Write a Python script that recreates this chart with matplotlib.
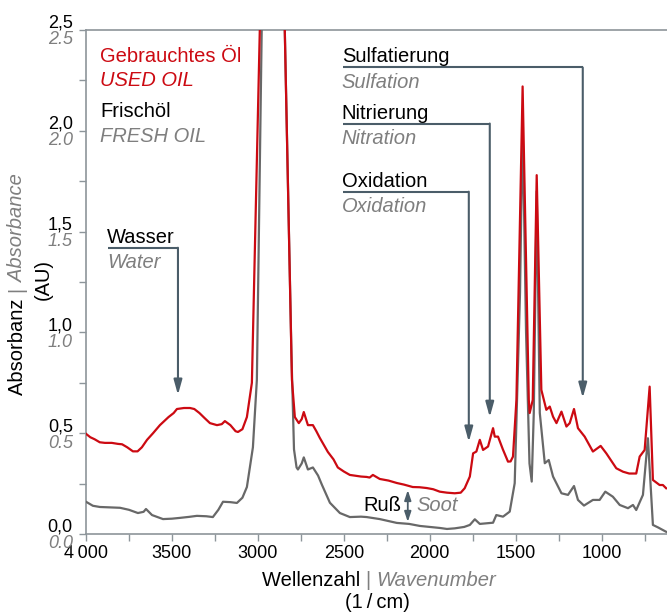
import matplotlib
matplotlib.use('Agg')
import matplotlib.pyplot as plt
from matplotlib.ticker import MultipleLocator

plt.rcParams['font.family'] = ['Liberation Sans', 'DejaVu Sans']

# used oil (red)
used_wn = [4000, 3975, 3950, 3920, 3890, 3850, 3814, 3790, 3760, 3727, 3700, 3675, 3645,
           3610, 3570, 3520, 3490, 3471, 3430, 3395, 3370, 3340, 3310, 3279, 3238, 3210,
           3192, 3160, 3130, 3116, 3090, 3064, 3035, 2960, 2870, 2802, 2785, 2762,
           2745, 2733, 2709, 2680, 2660, 2640, 2593, 2560, 2535, 2500, 2465, 2400, 2367,
           2350, 2331, 2291, 2240, 2192, 2150, 2099, 2060, 2018, 1980, 1942, 1900, 1855,
           1820, 1797, 1767, 1748, 1729, 1709, 1690, 1661, 1632, 1622, 1603, 1575, 1545,
           1530, 1516, 1496, 1460, 1424, 1419, 1401, 1378, 1351, 1322, 1302, 1283, 1263,
           1234, 1205, 1186, 1161, 1138, 1099, 1051, 1006, 973, 915, 876, 840, 799, 779,
           750, 721, 702, 663, 644, 625]
used_abs = [0.497, 0.48, 0.47, 0.455, 0.452, 0.452, 0.447, 0.445, 0.43, 0.41, 0.41, 0.43, 0.467,
            0.50, 0.54, 0.58, 0.60, 0.62, 0.625, 0.625, 0.62, 0.60, 0.575, 0.55, 0.54, 0.545,
            0.56, 0.54, 0.51, 0.506, 0.52, 0.58, 0.75, 3.6, 3.6, 0.765, 0.58, 0.55,
            0.57, 0.605, 0.54, 0.54, 0.51, 0.477, 0.407, 0.37, 0.33, 0.31, 0.293, 0.285, 0.283,
            0.28, 0.293, 0.273, 0.265, 0.253, 0.245, 0.233, 0.232, 0.228, 0.222, 0.21, 0.205, 0.202,
            0.205, 0.227, 0.285, 0.40, 0.409, 0.467, 0.417, 0.434, 0.525, 0.483, 0.483, 0.42, 0.359,
            0.36, 0.384, 0.665, 2.22, 0.665, 0.60, 0.665, 1.78, 0.715, 0.616, 0.632, 0.582, 0.55,
            0.607, 0.533, 0.55, 0.62, 0.525, 0.483, 0.409, 0.437, 0.40, 0.326, 0.309, 0.30, 0.30, 0.384,
            0.417, 0.731, 0.268, 0.243, 0.243, 0.227]

# fresh oil (gray)
fresh_wn = [4000, 3960, 3919, 3860, 3802, 3750, 3698, 3665, 3651, 3616, 3552, 3500, 3453,
            3400, 3355, 3300, 3262, 3230, 3203, 3160, 3122, 3090, 3064, 3029, 3006, 2960,
            2870, 2805, 2790, 2775, 2767, 2745, 2733, 2709, 2680, 2650, 2628, 2581, 2523,
            2465, 2400, 2367, 2291, 2192, 2120, 2058, 1942, 1900, 1855, 1800, 1767, 1738,
            1709, 1632, 1613, 1574, 1535, 1506, 1475, 1460, 1440, 1420, 1407, 1395, 1378,
            1360, 1331, 1308, 1283, 1234, 1196, 1161, 1138, 1103, 1051, 1012, 979, 935,
            895, 847, 818, 799, 760, 731, 702, 673, 625]
fresh_abs = [0.16, 0.14, 0.134, 0.132, 0.13, 0.12, 0.104, 0.11, 0.124, 0.094, 0.074, 0.076, 0.08,
             0.085, 0.09, 0.088, 0.084, 0.12, 0.16, 0.158, 0.154, 0.18, 0.233, 0.43, 0.765, 3.6,
             3.6, 0.9, 0.42, 0.33, 0.32, 0.35, 0.38, 0.32, 0.33, 0.29, 0.245, 0.155, 0.104,
             0.084, 0.086, 0.084, 0.074, 0.055, 0.05, 0.04, 0.03, 0.025, 0.028, 0.035, 0.045, 0.073,
             0.05, 0.056, 0.094, 0.086, 0.111, 0.252, 1.2, 2.04, 1.0, 0.35, 0.26, 0.6, 1.70,
             0.60, 0.351, 0.367, 0.285, 0.202, 0.194, 0.238, 0.169, 0.141, 0.169, 0.169, 0.21, 0.185,
             0.144, 0.128, 0.144, 0.119, 0.194, 0.475, 0.045, 0.033, 0.011]

# annotations: label de, label en, text start, bar height, arrow wavenumber, arrow tip
notes_de = ['Wasser', 'Sulfatierung', 'Nitrierung', 'Oxidation']
notes_en = ['Water', 'Sulfation', 'Nitration', 'Oxidation']
notes_x0 = [3872, 2506, 2506, 2506]
notes_bar = [1.42, 2.314, 2.036, 1.698]
notes_wn = [3465, 1110, 1651, 1773]
notes_tip = [0.69, 0.675, 0.58, 0.457]

soot_wn = 2128
soot_top = 0.218
soot_bottom = 0.06

yticks = [0.0, 0.5, 1.0, 1.5, 2.0, 2.5]
xticks = [4000, 3500, 3000, 2500, 2000, 1500, 1000]
xtick_labels = ['4\u2009000', '3500', '3000', '2500', '2000', '1500', '1000']

RED = '#cc0a12'
CURVE_GRAY = '#686868'
TEXT_GRAY = '#7f7f7f'
ARROW = '#4b5d69'
SPINE = '#8d959a'
FS = 14.5

fig = plt.figure(figsize=(6.67, 6.12), dpi=100)
ax = fig.add_axes([86/667, 1-534/612, 581/667, 504/612])

ax.plot(fresh_wn, fresh_abs, color=CURVE_GRAY, lw=1.6, zorder=3)
ax.plot(used_wn, used_abs, color=RED, lw=1.6, zorder=4)

ax.set_xlim(4000, 620)
ax.set_ylim(0, 2.5)

for s in ['left', 'top', 'bottom']:
    ax.spines[s].set_color(SPINE)
    ax.spines[s].set_linewidth(1.2)
ax.spines['right'].set_visible(False)

ax.xaxis.set_minor_locator(MultipleLocator(250))
ax.yaxis.set_minor_locator(MultipleLocator(0.25))
ax.set_xticks(xticks)
ax.set_xticklabels(xtick_labels, fontsize=13)
ax.set_yticks(yticks)
ax.tick_params(axis='y', labelleft=False)
ax.tick_params(which='both', direction='out', color=SPINE, width=1.0, length=5)
ax.tick_params(axis='x', pad=3)

# two-language y tick labels
for v in yticks:
    ax.annotate(f'{v:.1f}'.replace('.', ','), xy=(0, v), xycoords=ax.get_yaxis_transform(),
                xytext=(-9.5, 1.5), textcoords='offset points', ha='right', va='baseline',
                fontsize=13, color='black', annotation_clip=False)
    ax.annotate(f'{v:.1f}', xy=(0, v), xycoords=ax.get_yaxis_transform(),
                xytext=(-9.5, -1), textcoords='offset points', ha='right', va='top',
                fontsize=13, color=TEXT_GRAY, style='italic', annotation_clip=False)

# legend text
ax.text(3919, 2.339, 'Gebrauchtes Öl', color=RED, fontsize=FS, va='baseline')
ax.text(3919, 2.22, 'USED OIL', color=RED, fontsize=FS, style='italic', va='baseline')
ax.text(3919, 2.07, 'Frischöl', color='black', fontsize=FS, va='baseline')
ax.text(3919, 1.946, 'FRESH OIL', color=TEXT_GRAY, fontsize=FS, style='italic', va='baseline')

# annotation arrows
for de, en, x0, bar, wn, tip in zip(notes_de, notes_en, notes_x0, notes_bar, notes_wn, notes_tip):
    ax.plot([x0, wn], [bar, bar], color=ARROW, lw=1.5, solid_capstyle='butt', zorder=2)
    ax.annotate('', xy=(wn, tip), xytext=(wn, bar),
                arrowprops=dict(arrowstyle='-|>,head_length=0.9,head_width=0.25',
                                color=ARROW, lw=1.5, shrinkA=0, shrinkB=0), zorder=2)
    ax.text(x0 + 6, bar + 0.025, de, color='black', fontsize=FS, va='baseline')
    ax.text(x0 + 6, bar - 0.025, en, color=TEXT_GRAY, fontsize=FS, style='italic', va='top')

# soot
ax.annotate('', xy=(soot_wn, soot_bottom), xytext=(soot_wn, soot_top),
            arrowprops=dict(arrowstyle='<|-|>,head_length=0.6,head_width=0.2',
                            color=ARROW, lw=1.3, shrinkA=0, shrinkB=0))
ax.text(soot_wn + 35, (soot_top + soot_bottom) / 2, 'Ruß', color='black', fontsize=FS,
        ha='right', va='center')
ax.text(soot_wn - 50, (soot_top + soot_bottom) / 2, 'Soot', color=TEXT_GRAY, fontsize=FS,
        style='italic', ha='left', va='center')

# x axis label (two languages)
t1 = fig.text(262/667, 1-586/612, 'Wellenzahl ', color='black', fontsize=FS, va='baseline')
t2 = ax.annotate('| ', xy=(1, 0), xycoords=t1, color=TEXT_GRAY, fontsize=FS, va='bottom', ha='left')
t3 = ax.annotate('Wavenumber', xy=(1, 0), xycoords=t2, color=TEXT_GRAY, fontsize=FS,
                 style='italic', va='bottom', ha='left')
fig.text(377/667, 1-608/612, '(1\u2009/\u2009cm)', color='black', fontsize=FS, ha='center',
         va='baseline')

# y axis label (two languages)
y1 = fig.text(18/667, 1-395/612, 'Absorbanz ', color='black', fontsize=FS, rotation=90,
              ha='center', va='bottom')
y2 = ax.annotate('| ', xy=(0.5, 1), xycoords=y1, color=TEXT_GRAY, fontsize=FS, rotation=90,
                 ha='center', va='bottom')
y3 = ax.annotate('Absorbance', xy=(0.5, 1), xycoords=y2, color=TEXT_GRAY, fontsize=FS,
                 style='italic', rotation=90, ha='center', va='bottom')
fig.text(43/667, 1-280/612, '(AU)', color='black', fontsize=FS, rotation=90,
         ha='center', va='center')

fig.savefig('out.png', dpi=100)
